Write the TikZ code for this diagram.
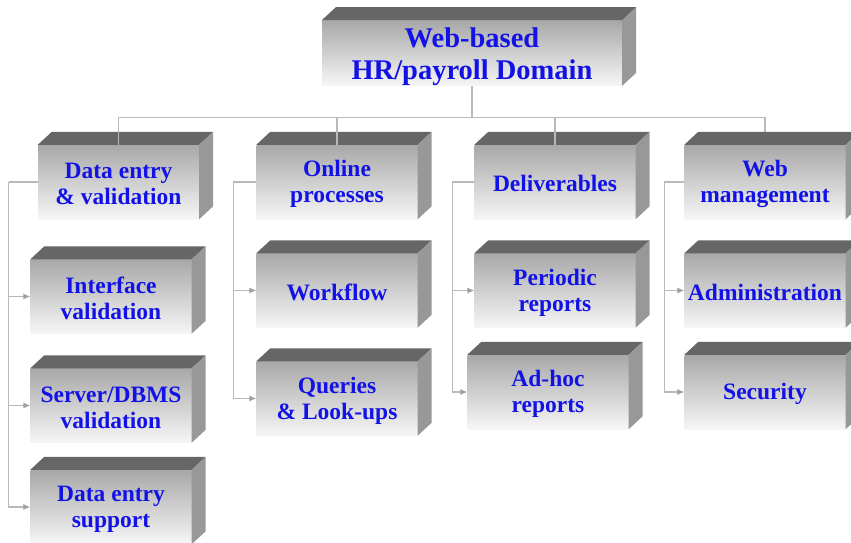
\documentclass[tikz,border=0pt]{standalone}
\usepackage{fontspec}
\setmainfont{Liberation Serif}
\usetikzlibrary{calc,arrows.meta}

\definecolor{facetop}{RGB}{102,102,102}
\definecolor{faceside}{RGB}{152,152,152}
\definecolor{frontdark}{RGB}{168,168,168}
\definecolor{frontlight}{RGB}{246,246,246}
\definecolor{labelblue}{RGB}{18,18,230}
\definecolor{wirecol}{RGB}{185,185,185}
\definecolor{tipcol}{RGB}{160,160,160}

\tikzset{
  front/.style={minimum width=161pt, minimum height=74pt, inner sep=0pt,
    top color=frontdark, bottom color=frontlight, draw=none, align=center,
    text=labelblue, font=\fontsize{23.5}{26}\selectfont\bfseries},
  titlebox/.style={front, minimum width=300pt, minimum height=60pt,
    font=\fontsize{28.5}{32}\selectfont\bfseries},
  wire/.style={draw=wirecol, line width=1.1pt},
  feed/.style={wire, -{Latex[length=7pt,width=6pt,color=tipcol]}},
}

% top and right faces of a block whose front face is node #1
\newcommand\blocksides[1]{%
  \fill[facetop] (#1.north west) -- ++(14,-13) -- ($(#1.north east)+(14,-13)$) -- (#1.north east) -- cycle;
  \fill[faceside] (#1.north east) -- ++(14,-13) -- ($(#1.south east)+(14,-13)$) -- (#1.south east) -- cycle;
}
% strut that lowers a label slightly inside its block
\newcommand\lowerlabel{\rule{0pt}{20pt}}

\begin{document}
\begin{tikzpicture}[x=1pt,y=-1pt]
  \path[use as bounding box] (0,0) rectangle (851,543);
  \clip (0,0) rectangle (851,543);

  % front faces
  \node[titlebox] (title) at (472,53) {\rule{0pt}{27pt}Web-based\\HR/payroll Domain};

  \node[front] (de) at (118.5,182) {\lowerlabel Data entry\\\& validation};
  \node[front] (iv) at (111,296.5) {\lowerlabel Interface\\validation};
  \node[front] (sv) at (111,405.5) {\lowerlabel Server/DBMS\\validation};
  \node[front] (ds) at (111,507)   {\lowerlabel Data entry\\support};

  \node[front] (op) at (337,182)   {\lowerlabel Online\\processes};
  \node[front] (wf) at (337,290.5) {\lowerlabel Workflow};
  \node[front] (qu) at (337,398.5) {\lowerlabel Queries\\\& Look-ups};

  \node[front] (dl) at (555,182)   {\lowerlabel Deliverables};
  \node[front] (pr) at (555,290.5) {\lowerlabel Periodic\\reports};
  \node[front] (ah) at (548,392)   {\lowerlabel Ad-hoc\\reports};

  \node[front] (wm) at (765,182)   {\lowerlabel Web\\management};
  \node[front] (ad) at (765,290.5) {\lowerlabel Administration};
  \node[front] (se) at (765,392)   {\lowerlabel Security};

  % top and side faces
  \foreach \b in {title,de,iv,sv,ds,op,wf,qu,dl,pr,ah,wm,ad,se} {\blocksides{\b}}

  % links from the root to the four areas
  \draw[wire] (title.south) -- ++(0,32) coordinate (hub);
  \draw[wire] (hub) -| (de.north);
  \draw[wire] (hub) -| (op.north);
  \draw[wire] (hub) -| (dl.north);
  \draw[wire] (hub) -| ($(wm.north)+(0,-13)$);

  % Data entry & validation
  \draw[wire] (de.west) -- ++(-29,0) coordinate (b1);
  \draw[feed] (b1) |- (iv.west);
  \draw[feed] (b1) |- (sv.west);
  \draw[feed] (b1) |- (ds.west);

  % Online processes
  \draw[wire] (op.west) -- ++(-23,0) coordinate (b2);
  \draw[feed] (b2) |- (wf.west);
  \draw[feed] (b2) |- (qu.west);

  % Deliverables
  \draw[wire] (dl.west) -- ++(-22,0) coordinate (b3);
  \draw[feed] (b3) |- (pr.west);
  \draw[feed] (b3) |- (ah.west);

  % Web management
  \draw[wire] (wm.west) -- ++(-20,0) coordinate (b4);
  \draw[feed] (b4) |- (ad.west);
  \draw[feed] (b4) |- (se.west);
\end{tikzpicture}
\end{document}
